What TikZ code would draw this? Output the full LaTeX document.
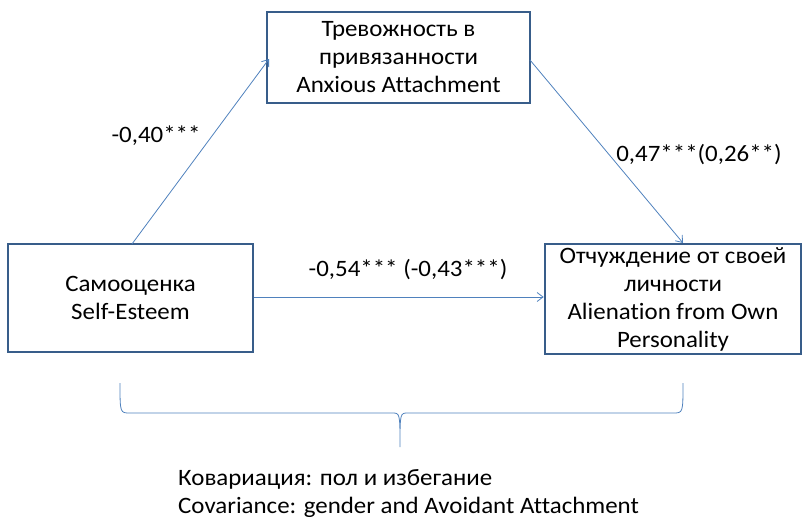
\documentclass[tikz,border=0pt]{standalone}
\usepackage{fontspec}
\setmainfont{Carlito}[Ligatures=NoCommon,FakeStretch=1.06]
\usetikzlibrary{arrows.meta}
\definecolor{boxblue}{HTML}{385D8A}
\definecolor{linkblue}{HTML}{4F81BD}
\begin{document}
\begin{tikzpicture}[x=1pt,y=-1pt,
  box/.style={draw=boxblue,line width=2.6pt,fill=white,align=center,inner sep=0pt,font=\fontsize{23.5}{28}\selectfont},
  link/.style={draw=linkblue,line width=0.8pt,-{Straight Barb[length=6pt,width=9pt,line width=0.8pt]}},
  lab/.style={font=\fontsize{23.5}{28}\selectfont,inner sep=0pt}]
\useasboundingbox (0,0) rectangle (803,519);
\node[box,minimum width=263pt,minimum height=91pt] (anx) at (398.5,57.5) {Тревожность в\\привязанности\\Anxious Attachment};
\node[box,minimum width=245pt,minimum height=108pt] (se) at (130.5,298) {Самооценка\\Self-Esteem};
\node[box,minimum width=256pt,minimum height=110pt] (al) at (673,299) {Отчуждение от своей\\личности\\Alienation from Own\\Personality};
\coordinate (a1s) at (132,244);
\coordinate (a1e) at (269,59);
\coordinate (a2s) at (530,60);
\coordinate (a2e) at (683,243);
\draw[link] (a1s) -- (a1e);
\draw[link] (a2s) -- (a2e);
\draw[link] (se.east |- 0,297) -- (al.west |- 0,297);
\node[lab] (l1) at (156,136) {-0,40***};
\node[lab] (l2) at (699,155) {0,47***(0,26**)};
\node[lab] (l3) at (408,270) {-0,54*** (-0,43***)};
\coordinate (bl) at (120,383);
\coordinate (br) at (683,383);
\coordinate (bt) at (400,447);
\draw[linkblue,line width=0.8pt] (bl) .. controls (120,413) .. (130,413) -- (392,413) .. controls (400,413) .. (bt) .. controls (400,413) .. (408,413) -- (673,413) .. controls (683,413) .. (br);
\node[lab,anchor=west,align=left] (cov) at (178,494) {Ковариация: пол и избегание\\Covariance: gender and Avoidant Attachment};
\end{tikzpicture}
\end{document}
